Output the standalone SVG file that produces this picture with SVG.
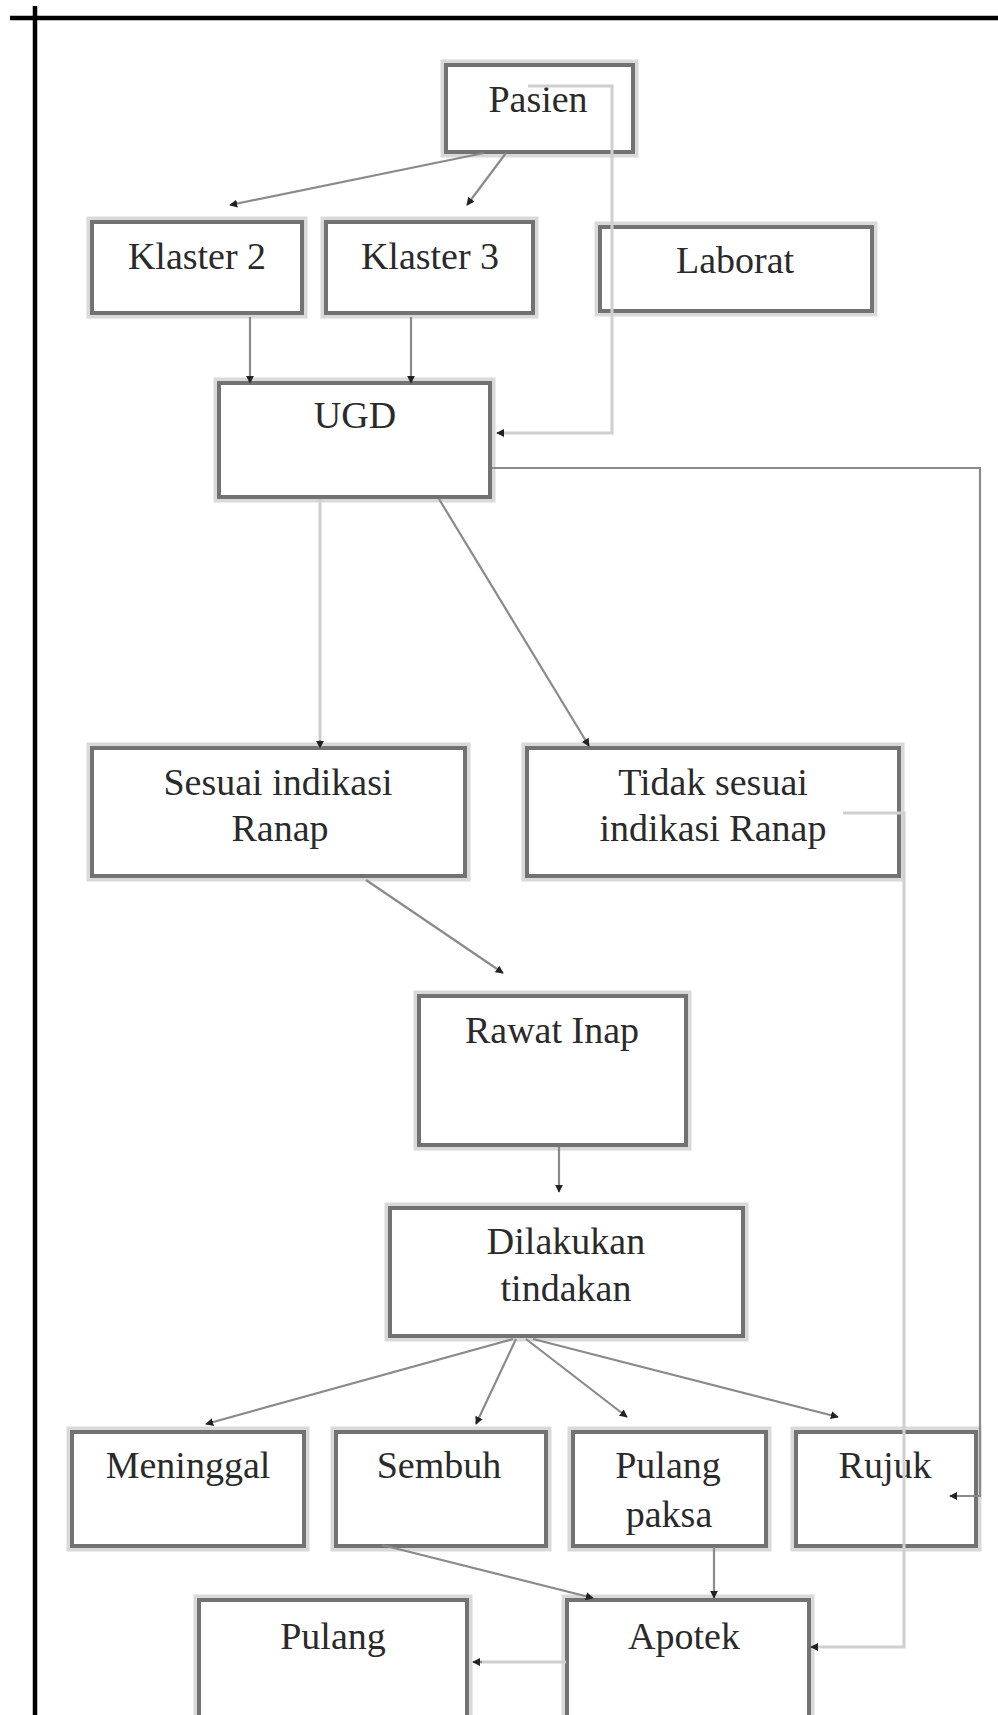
<svg xmlns="http://www.w3.org/2000/svg" width="998" height="1715" viewBox="0 0 998 1715">
<defs>
<marker id="ah" viewBox="0 0 10 10" refX="9" refY="5" markerWidth="8" markerHeight="8" markerUnits="userSpaceOnUse" orient="auto">
<path d="M0,0 L10,5 L0,10 z" fill="#222"/>
</marker>
</defs>
<style>
.halo{fill:none;stroke:#d9d9d9;stroke-width:11}
.box{fill:#fff;stroke:#727272;stroke-width:4}
.t{font-family:"Liberation Serif","Times New Roman",serif;font-size:38px;fill:#2a2a2a;text-anchor:middle}
.c{fill:none;stroke:#8a8a8a;stroke-width:2.2}
.l{fill:none;stroke:#cfcfcf;stroke-width:3}
.frame{stroke:#000;stroke-width:4.5;fill:none}
</style>
<rect width="998" height="1715" fill="#fff"/>
<g id="frame">
<line class="frame" x1="10" y1="18" x2="998" y2="18"/>
<line class="frame" x1="35" y1="6" x2="35" y2="1715"/>
</g>
<g id="pasien"><rect class="halo" x="446" y="65" width="187" height="87"/><rect class="box" x="446" y="65" width="187" height="87"/><text class="t" x="538" y="112">Pasien</text></g>
<g id="klaster2"><rect class="halo" x="92" y="222" width="210" height="91"/><rect class="box" x="92" y="222" width="210" height="91"/><text class="t" x="197" y="269">Klaster 2</text></g>
<g id="klaster3"><rect class="halo" x="326" y="222" width="207" height="91"/><rect class="box" x="326" y="222" width="207" height="91"/><text class="t" x="430" y="269">Klaster 3</text></g>
<g id="laborat"><rect class="halo" x="600" y="227" width="272" height="84"/><rect class="box" x="600" y="227" width="272" height="84"/><text class="t" x="735" y="273">Laborat</text></g>
<g id="ugd"><rect class="halo" x="219" y="383" width="271" height="114"/><rect class="box" x="219" y="383" width="271" height="114"/><text class="t" x="355" y="428">UGD</text></g>
<g id="sesuai"><rect class="halo" x="92" y="748" width="373" height="128"/><rect class="box" x="92" y="748" width="373" height="128"/><text class="t" x="278" y="795">Sesuai indikasi</text><text class="t" x="280" y="841">Ranap</text></g>
<g id="tidak"><rect class="halo" x="527" y="748" width="372" height="128"/><rect class="box" x="527" y="748" width="372" height="128"/><text class="t" x="713" y="795">Tidak sesuai</text><text class="t" x="713" y="841">indikasi Ranap</text></g>
<g id="rawatinap"><rect class="halo" x="419" y="996" width="267" height="149"/><rect class="box" x="419" y="996" width="267" height="149"/><text class="t" x="552" y="1043">Rawat Inap</text></g>
<g id="dilakukan"><rect class="halo" x="390" y="1208" width="353" height="128"/><rect class="box" x="390" y="1208" width="353" height="128"/><text class="t" x="566" y="1254">Dilakukan</text><text class="t" x="566" y="1301">tindakan</text></g>
<g id="meninggal"><rect class="halo" x="72" y="1432" width="232" height="114"/><rect class="box" x="72" y="1432" width="232" height="114"/><text class="t" x="188" y="1478">Meninggal</text></g>
<g id="sembuh"><rect class="halo" x="336" y="1432" width="210" height="114"/><rect class="box" x="336" y="1432" width="210" height="114"/><text class="t" x="439" y="1478">Sembuh</text></g>
<g id="pulangpaksa"><rect class="halo" x="573" y="1432" width="193" height="114"/><rect class="box" x="573" y="1432" width="193" height="114"/><text class="t" x="668" y="1478">Pulang</text><text class="t" x="669" y="1527">paksa</text></g>
<g id="rujuk"><rect class="halo" x="796" y="1432" width="180" height="114"/><rect class="box" x="796" y="1432" width="180" height="114"/><text class="t" x="885" y="1478">Rujuk</text></g>
<g id="pulang"><rect class="halo" x="199" y="1600" width="268" height="130"/><rect class="box" x="199" y="1600" width="268" height="130"/><text class="t" x="333" y="1649">Pulang</text></g>
<g id="apotek"><rect class="halo" x="567" y="1600" width="242" height="130"/><rect class="box" x="567" y="1600" width="242" height="130"/><text class="t" x="684" y="1649">Apotek</text></g>
<g id="connectors">
<line class="c" x1="484" y1="153" x2="230" y2="205" marker-end="url(#ah)"/>
<line class="c" x1="506" y1="153" x2="467" y2="205" marker-end="url(#ah)"/>
<polyline class="l" points="528,86 612,86 612,433 502,433"/>
<line class="c" x1="500" y1="433" x2="497" y2="433" marker-end="url(#ah)"/>
<line class="c" x1="250" y1="317" x2="250" y2="383" marker-end="url(#ah)"/>
<line class="c" x1="411" y1="317" x2="411" y2="383" marker-end="url(#ah)"/>
<polyline class="c" points="492,468 980,468 980,1496 950,1496" marker-end="url(#ah)"/>
<line class="l" x1="320" y1="499" x2="320" y2="748"/>
<line class="c" x1="320" y1="740" x2="320" y2="748" marker-end="url(#ah)"/>
<line class="c" x1="439" y1="499" x2="589" y2="746" marker-end="url(#ah)"/>
<polyline class="l" points="843,813 904,813 904,1647 815,1647"/>
<line class="c" x1="818" y1="1647" x2="811" y2="1647" marker-end="url(#ah)"/>
<line class="c" x1="366" y1="880" x2="503" y2="973" marker-end="url(#ah)"/>
<line class="c" x1="559" y1="1147" x2="559" y2="1192" marker-end="url(#ah)"/>
<line class="c" x1="513" y1="1339" x2="206" y2="1424" marker-end="url(#ah)"/>
<line class="c" x1="516" y1="1339" x2="476" y2="1424" marker-end="url(#ah)"/>
<line class="c" x1="526" y1="1339" x2="627" y2="1417" marker-end="url(#ah)"/>
<line class="c" x1="533" y1="1339" x2="838" y2="1417" marker-end="url(#ah)"/>
<line class="c" x1="382" y1="1545" x2="593" y2="1598" marker-end="url(#ah)"/>
<line class="c" x1="714" y1="1547" x2="714" y2="1598" marker-end="url(#ah)"/>
<line class="l" x1="566" y1="1662" x2="478" y2="1662"/>
<line class="c" x1="482" y1="1662" x2="473" y2="1662" marker-end="url(#ah)"/>
</g>
</svg>
